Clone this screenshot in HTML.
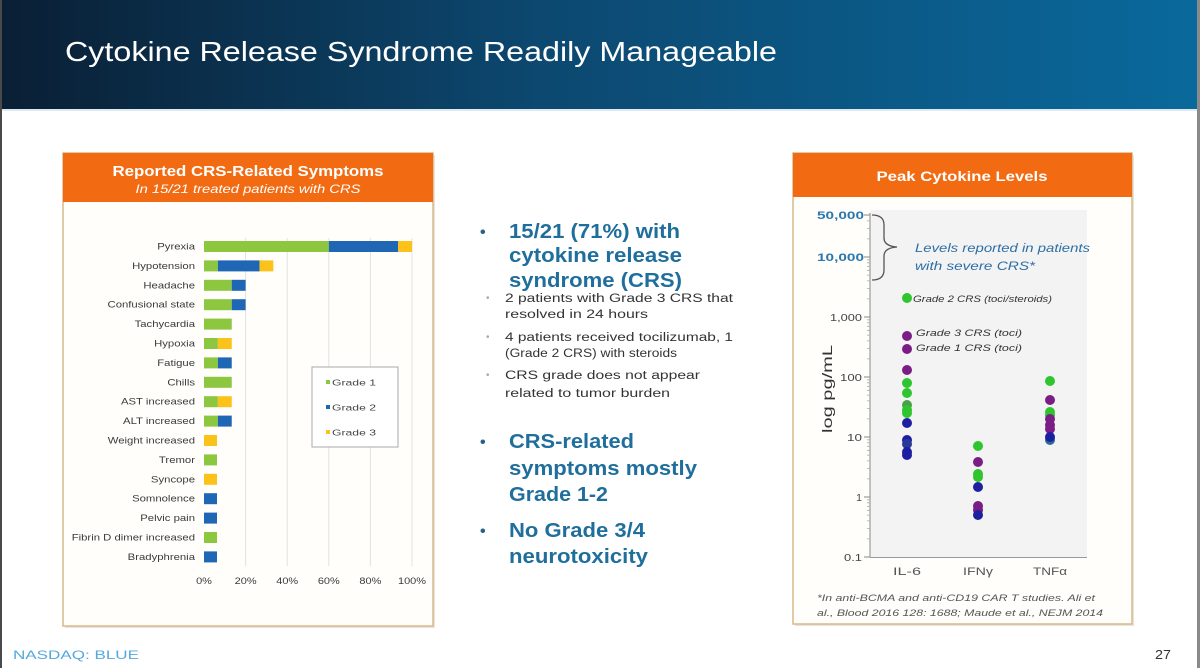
<!DOCTYPE html>
<html><head><meta charset="utf-8"><style>
html,body{margin:0;padding:0;background:#fff;}
svg{display:block;}
text{font-family:"Liberation Sans",Arial,sans-serif;}
</style></head><body>
<svg width="1200" height="668" viewBox="0 0 1200 668" xmlns="http://www.w3.org/2000/svg">
<defs>
<linearGradient id="hdr" x1="0" y1="0" x2="1" y2="0">
<stop offset="0" stop-color="#0a1f34"/>
<stop offset="0.45" stop-color="#0c4870"/>
<stop offset="1" stop-color="#0a699c"/>
</linearGradient>
</defs>
<rect x="0" y="0" width="1200" height="668" fill="#ffffff"/>
<rect x="0" y="0" width="1200" height="109" fill="url(#hdr)"/>
<rect x="0" y="109" width="1200" height="2" fill="#dfe9f1"/>
<rect x="0" y="0" width="2" height="668" fill="#4a4a4a"/>
<rect x="1197" y="0" width="3" height="668" fill="#8a8a8a"/>
<text x="65" y="61" font-size="27.5" fill="#ffffff" textLength="712" lengthAdjust="spacingAndGlyphs">Cytokine Release Syndrome Readily Manageable</text>

<!-- LEFT PANEL -->
<rect x="65" y="155" width="370" height="473" fill="#e9e3da"/>
<rect x="63" y="153" width="370" height="473" fill="#fffefb" stroke="#d7b98c" stroke-width="1.5"/>
<rect x="63" y="153" width="370" height="49" fill="#f26b12"/>
<text x="248" y="176" font-size="14.5" font-weight="bold" fill="#ffffff" text-anchor="middle" textLength="271" lengthAdjust="spacingAndGlyphs">Reported CRS-Related Symptoms</text>
<text x="248" y="193" font-size="12" font-style="italic" fill="#ffffff" text-anchor="middle" textLength="225" lengthAdjust="spacingAndGlyphs">In 15/21 treated patients with CRS</text>

<g stroke="#e1e1e1" stroke-width="1">
<line x1="245.6" y1="238" x2="245.6" y2="566"/>
<line x1="287.2" y1="238" x2="287.2" y2="566"/>
<line x1="328.8" y1="238" x2="328.8" y2="566"/>
<line x1="370.4" y1="238" x2="370.4" y2="566"/>
<line x1="412" y1="238" x2="412" y2="566"/>
</g>

<g>
<rect x="204" y="241" width="124.83" height="11" fill="#8dc63f"/>
<rect x="328.83" y="241" width="69.35" height="11" fill="#1f67b5"/>
<rect x="398.18" y="241" width="13.87" height="11" fill="#fbc31a"/>
<rect x="204" y="260.4" width="13.87" height="11" fill="#8dc63f"/>
<rect x="217.87" y="260.4" width="41.61" height="11" fill="#1f67b5"/>
<rect x="259.48" y="260.4" width="13.87" height="11" fill="#fbc31a"/>
<rect x="204" y="279.8" width="27.74" height="11" fill="#8dc63f"/>
<rect x="231.74" y="279.8" width="13.87" height="11" fill="#1f67b5"/>
<rect x="204" y="299.2" width="27.74" height="11" fill="#8dc63f"/>
<rect x="231.74" y="299.2" width="13.87" height="11" fill="#1f67b5"/>
<rect x="204" y="318.6" width="27.74" height="11" fill="#8dc63f"/>
<rect x="204" y="338" width="13.87" height="11" fill="#8dc63f"/>
<rect x="217.87" y="338" width="13.87" height="11" fill="#fbc31a"/>
<rect x="204" y="357.4" width="13.87" height="11" fill="#8dc63f"/>
<rect x="217.87" y="357.4" width="13.87" height="11" fill="#1f67b5"/>
<rect x="204" y="376.8" width="27.74" height="11" fill="#8dc63f"/>
<rect x="204" y="396.2" width="13.87" height="11" fill="#8dc63f"/>
<rect x="217.87" y="396.2" width="13.87" height="11" fill="#fbc31a"/>
<rect x="204" y="415.6" width="13.87" height="11" fill="#8dc63f"/>
<rect x="217.87" y="415.6" width="13.87" height="11" fill="#1f67b5"/>
<rect x="204" y="435" width="13" height="11" fill="#fbc31a"/>
<rect x="204" y="454.4" width="13" height="11" fill="#8dc63f"/>
<rect x="204" y="473.8" width="13" height="11" fill="#fbc31a"/>
<rect x="204" y="493.2" width="13" height="11" fill="#1f67b5"/>
<rect x="204" y="512.6" width="13" height="11" fill="#1f67b5"/>
<rect x="204" y="532" width="13" height="11" fill="#8dc63f"/>
<rect x="204" y="551.4" width="13" height="11" fill="#1f67b5"/>
</g>

<g transform="translate(195,0) scale(1.26,1)" font-size="9" fill="#3a3a3a" text-anchor="end">
<text x="0" y="249.5">Pyrexia</text>
<text x="0" y="268.9">Hypotension</text>
<text x="0" y="288.3">Headache</text>
<text x="0" y="307.7">Confusional state</text>
<text x="0" y="327.1">Tachycardia</text>
<text x="0" y="346.5">Hypoxia</text>
<text x="0" y="365.9">Fatigue</text>
<text x="0" y="385.3">Chills</text>
<text x="0" y="404.7">AST increased</text>
<text x="0" y="424.1">ALT increased</text>
<text x="0" y="443.5">Weight increased</text>
<text x="0" y="462.9">Tremor</text>
<text x="0" y="482.3">Syncope</text>
<text x="0" y="501.7">Somnolence</text>
<text x="0" y="521.1">Pelvic pain</text>
<text x="0" y="540.5">Fibrin D dimer increased</text>
<text x="0" y="559.9">Bradyphrenia</text>
</g>

<g font-size="9" fill="#3a3a3a" text-anchor="middle">
<text x="204" y="584" transform="translate(204,0) scale(1.22,1) translate(-204,0)">0%</text>
<text x="245.6" y="584" transform="translate(245.6,0) scale(1.22,1) translate(-245.6,0)">20%</text>
<text x="287.2" y="584" transform="translate(287.2,0) scale(1.22,1) translate(-287.2,0)">40%</text>
<text x="328.8" y="584" transform="translate(328.8,0) scale(1.22,1) translate(-328.8,0)">60%</text>
<text x="370.4" y="584" transform="translate(370.4,0) scale(1.22,1) translate(-370.4,0)">80%</text>
<text x="412" y="584" transform="translate(412,0) scale(1.22,1) translate(-412,0)">100%</text>
</g>

<rect x="312" y="367" width="86" height="80" fill="#ffffff" stroke="#a8a8a8" stroke-width="1"/>
<rect x="326" y="380" width="4" height="4" fill="#8dc63f"/>
<rect x="326" y="405" width="4" height="4" fill="#1f67b5"/>
<rect x="326" y="430" width="4" height="4" fill="#fbc31a"/>
<g font-size="8.5" fill="#444">
<text x="332" y="385.5" textLength="44" lengthAdjust="spacingAndGlyphs">Grade 1</text>
<text x="332" y="410.5" textLength="44" lengthAdjust="spacingAndGlyphs">Grade 2</text>
<text x="332" y="435.5" textLength="44" lengthAdjust="spacingAndGlyphs">Grade 3</text>
</g>

<!-- MIDDLE TEXT -->
<g font-size="20.5" font-weight="bold" fill="#1f6e9c">
<text x="480" y="237" font-size="16" fill="#2a5f86">•</text>
<text x="509" y="238" textLength="171" lengthAdjust="spacingAndGlyphs">15/21 (71%) with</text>
<text x="509" y="262" textLength="173" lengthAdjust="spacingAndGlyphs">cytokine release</text>
<text x="509" y="287" textLength="173" lengthAdjust="spacingAndGlyphs">syndrome (CRS)</text>
<text x="480" y="447" font-size="16" fill="#2a5f86">•</text>
<text x="509" y="448" textLength="125" lengthAdjust="spacingAndGlyphs">CRS-related</text>
<text x="509" y="475" textLength="188" lengthAdjust="spacingAndGlyphs">symptoms mostly</text>
<text x="509" y="501" textLength="99" lengthAdjust="spacingAndGlyphs">Grade 1-2</text>
<text x="480" y="536" font-size="16" fill="#2a5f86">•</text>
<text x="509" y="537" textLength="136" lengthAdjust="spacingAndGlyphs">No Grade 3/4</text>
<text x="509" y="563" textLength="139" lengthAdjust="spacingAndGlyphs">neurotoxicity</text>
</g>
<g font-size="11.5" fill="#333">
<text x="486" y="301" font-size="10" fill="#aaa">•</text>
<text x="505" y="302" textLength="228" lengthAdjust="spacingAndGlyphs">2 patients with Grade 3 CRS that</text>
<text x="505" y="318" textLength="143" lengthAdjust="spacingAndGlyphs">resolved in 24 hours</text>
<text x="486" y="340" font-size="10" fill="#aaa">•</text>
<text x="505" y="341" textLength="228" lengthAdjust="spacingAndGlyphs">4 patients received tocilizumab, 1</text>
<text x="505" y="357" textLength="172" lengthAdjust="spacingAndGlyphs">(Grade 2 CRS) with steroids</text>
<text x="486" y="378" font-size="10" fill="#aaa">•</text>
<text x="505" y="379" textLength="195" lengthAdjust="spacingAndGlyphs">CRS grade does not appear</text>
<text x="505" y="397" textLength="165" lengthAdjust="spacingAndGlyphs">related to tumor burden</text>
</g>

<!-- RIGHT PANEL -->
<rect x="795" y="155" width="339" height="471" fill="#e9e3da"/>
<rect x="793" y="153" width="339" height="471" fill="#fffefb" stroke="#d7b98c" stroke-width="1.5"/>
<rect x="793" y="153" width="339" height="44" fill="#f26b12"/>
<text x="962" y="181" font-size="13.5" font-weight="bold" fill="#ffffff" text-anchor="middle" textLength="171" lengthAdjust="spacingAndGlyphs">Peak Cytokine Levels</text>

<rect x="870" y="210" width="217" height="347" fill="#f3f3f3"/>
<line x1="870" y1="213" x2="870" y2="557.5" stroke="#8a8a8a" stroke-width="1"/>
<line x1="870" y1="557.5" x2="1087" y2="557.5" stroke="#9a9a9a" stroke-width="1"/>
<path d="M864 215H870M864 257H870M864 317H870M864 377H870M864 437H870M864 497H870M864 557H870" stroke="#888" stroke-width="1"/>
<path d="M867 538.9H870M867 528.4H870M867 520.9H870M867 515.1H870M867 510.3H870M867 506.3H870M867 502.8H870M867 499.8H870
M867 478.9H870M867 468.4H870M867 460.9H870M867 455.1H870M867 450.3H870M867 446.3H870M867 442.8H870M867 439.8H870
M867 418.9H870M867 408.4H870M867 400.9H870M867 395.1H870M867 390.3H870M867 386.3H870M867 382.8H870M867 379.8H870
M867 358.9H870M867 348.4H870M867 340.9H870M867 335.1H870M867 330.3H870M867 326.3H870M867 322.8H870M867 319.8H870
M867 298.9H870M867 288.4H870M867 280.9H870M867 275.1H870M867 270.3H870M867 266.3H870M867 262.8H870M867 259.8H870
M867 238.9H870M867 228.4H870M867 220.9H870" stroke="#aaa" stroke-width="0.8"/>

<g font-size="11" font-weight="bold" fill="#2b78b0" text-anchor="end">
<text x="864" y="219" textLength="47" lengthAdjust="spacingAndGlyphs">50,000</text>
<text x="864" y="261" textLength="47" lengthAdjust="spacingAndGlyphs">10,000</text>
</g>
<g font-size="10.5" fill="#444" text-anchor="end">
<text x="862" y="321" textLength="32" lengthAdjust="spacingAndGlyphs">1,000</text>
<text x="862" y="381" textLength="22" lengthAdjust="spacingAndGlyphs">100</text>
<text x="862" y="441" textLength="15" lengthAdjust="spacingAndGlyphs">10</text>
<text x="862" y="501">1</text>
<text x="862" y="561" textLength="18" lengthAdjust="spacingAndGlyphs">0.1</text>
</g>
<text transform="translate(832,389) rotate(-90)" font-size="14" fill="#333" text-anchor="middle" textLength="88" lengthAdjust="spacingAndGlyphs">log pg/mL</text>

<path d="M872 215 Q884 215 884 225 L884 238 Q884 246 897 247 Q884 248 884 256 L884 270 Q884 280 872 280" fill="none" stroke="#555" stroke-width="1.3"/>
<g font-size="11.5" font-style="italic" fill="#2c6ea6">
<text x="915" y="252" textLength="175" lengthAdjust="spacingAndGlyphs">Levels reported in patients</text>
<text x="915" y="270" textLength="120" lengthAdjust="spacingAndGlyphs">with severe CRS*</text>
</g>
<g font-size="9.5" font-style="italic" fill="#333">
<text x="913" y="302" textLength="139" lengthAdjust="spacingAndGlyphs">Grade 2 CRS (toci/steroids)</text>
<text x="916" y="336" textLength="106" lengthAdjust="spacingAndGlyphs">Grade 3 CRS (toci)</text>
<text x="916" y="351" textLength="106" lengthAdjust="spacingAndGlyphs">Grade 1 CRS (toci)</text>
</g>

<g>
<circle cx="907" cy="298" r="5" fill="#2ec52e"/>
<circle cx="907" cy="336" r="5" fill="#7a1e86"/>
<circle cx="907" cy="349" r="5" fill="#7a1e86"/>
<circle cx="907" cy="370" r="5" fill="#7a1e86"/>
<circle cx="907" cy="383" r="5" fill="#2ec52e"/>
<circle cx="907" cy="393" r="5" fill="#2ec52e"/>
<circle cx="907" cy="405" r="5" fill="#4aa04a"/>
<circle cx="907" cy="410" r="5" fill="#2ec52e"/>
<circle cx="907" cy="413" r="5" fill="#2ec52e"/>
<circle cx="907" cy="423" r="5" fill="#1c1fa0"/>
<circle cx="907" cy="440" r="5" fill="#1c1fa0"/>
<circle cx="907" cy="444" r="5" fill="#2a3a9a"/>
<circle cx="907" cy="452" r="5" fill="#1c1fa0"/>
<circle cx="907" cy="455" r="5" fill="#1c1fa0"/>

<circle cx="978" cy="446" r="5" fill="#2ec52e"/>
<circle cx="978" cy="462" r="5" fill="#7a1e86"/>
<circle cx="978" cy="474" r="5" fill="#2ec52e"/>
<circle cx="978" cy="477" r="5" fill="#2ec52e"/>
<circle cx="978" cy="487" r="5" fill="#1c1fa0"/>
<circle cx="978" cy="506" r="5" fill="#7a1e86"/>
<circle cx="978" cy="510" r="5" fill="#7a1e86"/>
<circle cx="978" cy="515" r="5" fill="#1c1fa0"/>

<circle cx="1050" cy="381" r="5" fill="#2ec52e"/>
<circle cx="1050" cy="400" r="5" fill="#7a1e86"/>
<circle cx="1050" cy="412" r="5" fill="#2ec52e"/>
<circle cx="1050" cy="415" r="5" fill="#2ec52e"/>
<circle cx="1050" cy="419" r="5" fill="#7a1e86"/>
<circle cx="1050" cy="425" r="5" fill="#7a1e86"/>
<circle cx="1050" cy="429" r="5" fill="#7a1e86"/>
<circle cx="1050" cy="440" r="5" fill="#2a6a9a"/>
<circle cx="1050" cy="437" r="5" fill="#1c1fa0"/>
</g>

<g font-size="11" fill="#555" text-anchor="middle">
<text x="907" y="575" textLength="28" lengthAdjust="spacingAndGlyphs">IL-6</text>
<text x="978" y="575" textLength="30" lengthAdjust="spacingAndGlyphs">IFNγ</text>
<text x="1050" y="575" textLength="34" lengthAdjust="spacingAndGlyphs">TNFα</text>
</g>
<g font-size="9.5" font-style="italic" fill="#555">
<text x="817" y="601" textLength="278" lengthAdjust="spacingAndGlyphs">*In anti-BCMA and anti-CD19 CAR T studies. Ali et</text>
<text x="817" y="616" textLength="286" lengthAdjust="spacingAndGlyphs">al., Blood 2016 128: 1688; Maude et al., NEJM 2014</text>
</g>

<text x="13" y="659" font-size="12" fill="#55a8dc" textLength="126" lengthAdjust="spacingAndGlyphs">NASDAQ: BLUE</text>
<text x="1155" y="659" font-size="13" fill="#333" textLength="16" lengthAdjust="spacingAndGlyphs">27</text>
</svg>
</body></html>
